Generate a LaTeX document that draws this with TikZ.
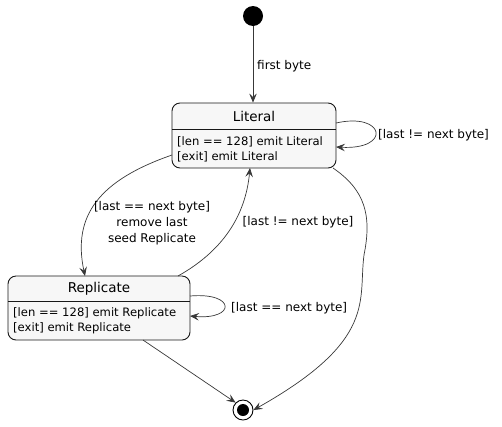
\documentclass[tikz,border=0pt]{standalone}
\usepackage{fontspec}
\setmainfont{DejaVu Sans}
\usetikzlibrary{arrows.meta}
\definecolor{boxfill}{HTML}{F7F7F7}
\definecolor{ink}{HTML}{181818}
\definecolor{edge}{HTML}{383838}
\tikzset{
  statebox/.style={draw=ink, fill=boxfill, rounded corners=8pt, line width=0.9pt, inner sep=0pt},
  ttl/.style={font=\fontsize{13.5}{15}\selectfont, text=black, inner sep=0pt},
  bodytxt/.style={font=\fontsize{11.6}{13}\selectfont, text=black, inner sep=0pt, anchor=west},
  lbl/.style={font=\fontsize{12}{16}\selectfont, text=black, inner sep=0pt, align=center},
  conn/.style={draw=edge, line width=0.7pt, -{Stealth[length=9pt,width=7.5pt,inset=3.5pt]}},
}
\begin{document}
\begin{tikzpicture}[x=1pt,y=-1pt]
\useasboundingbox (0,0) rectangle (502,426);
% start
\node[circle, fill=black, minimum size=20pt, inner sep=0pt] (start) at (253,16) {};
% Literal
\node[statebox, minimum width=164pt, minimum height=65pt] (lit) at (254,135.5) {};
\draw[ink, line width=0.9pt] (172,129) -- (336,129);
\node[ttl] (litT) at (254,116) {Literal};
\node[bodytxt] (litA) at (177,141.5) {[len == 128] emit Literal};
\node[bodytxt] (litB) at (177,157) {[exit] emit Literal};
% Replicate
\node[statebox, minimum width=182pt, minimum height=64pt] (rep) at (99,308) {};
\draw[ink, line width=0.9pt] (8,301) -- (190,301);
\node[ttl] (repT) at (99,289) {Replicate};
\node[bodytxt] (repA) at (13,313.5) {[len == 128] emit Replicate};
\node[bodytxt] (repB) at (13,328.5) {[exit] emit Replicate};
% end
\node[circle, draw=black, line width=0.9pt, minimum size=20pt, inner sep=0pt, fill=white] (fin) at (243,410) {};
\node[circle, fill=black, minimum size=12pt, inner sep=0pt] (finIn) at (243,410) {};
% edges
\draw[conn] (start) -- (lit.north -| start);
\node[lbl, anchor=west] (l1) at (257,66) {first byte};

\coordinate (litR1) at (336,123);
\coordinate (litR2) at (336,147);
\draw[conn] (litR1) .. controls (385,112) and (392,150) .. (litR2);
\node[lbl, anchor=west] (l2) at (378,135) {[last != next byte]};

\coordinate (repR1) at (190,296);
\coordinate (repR2) at (190,316);
\draw[conn] (repR1) .. controls (236,292) and (236,320) .. (repR2);
\node[lbl, anchor=west] (l3) at (231,308.5) {[last == next byte]};

\coordinate (litL) at (172,155);
\coordinate (repTop) at (85,276);
\draw[conn] (litL) .. controls (100,180) and (72,215) .. (repTop);
\node[lbl] (l4) at (152,223) {[last == next byte]\\remove last\\seed Replicate};

\coordinate (repTR) at (178,276);
\coordinate (litBot) at (250,168);
\draw[conn] (repTR) .. controls (228,248) and (246,210) .. (litBot);
\node[lbl] (l5) at (298,222) {[last != next byte]};

\coordinate (litBR) at (333,168);
\coordinate (midR) at (364,255);
\draw[conn] (litBR) .. controls (365,190) and (372,215) .. (midR) .. controls (358,300) and (378,340) .. (fin.east);

\coordinate (repB1) at (143,340);
\draw[conn] (repB1) -- (fin.north west);
\end{tikzpicture}
\end{document}
